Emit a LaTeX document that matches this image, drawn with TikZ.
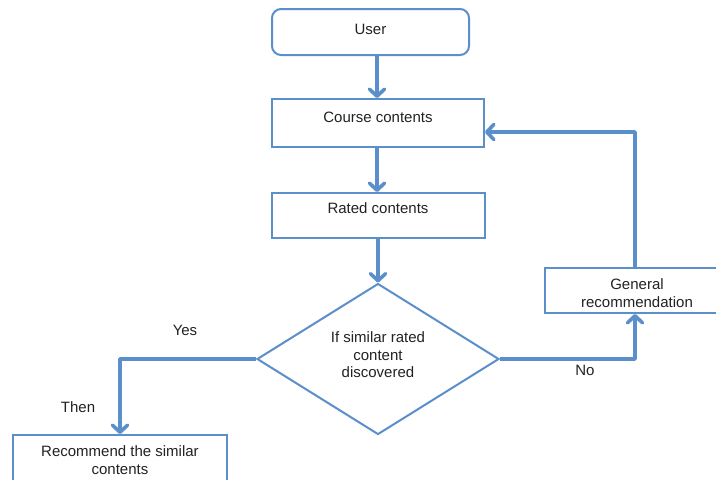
\documentclass[tikz,border=0pt]{standalone}
\usepackage{fontspec}
\setmainfont{Liberation Sans}
\usetikzlibrary{arrows.meta,shapes.geometric,calc}
\definecolor{lineblue}{HTML}{5B8FCB}
\definecolor{txtcol}{HTML}{222222}
\begin{document}
\begin{tikzpicture}[x=1pt,y=-1pt,
  box/.style={draw=lineblue,line width=2pt,fill=white,inner sep=0pt},
  txt/.style={text=txtcol,font=\fontsize{15}{17.5}\selectfont,align=center,inner sep=0pt},
  flow/.style={draw=lineblue,line width=3.6pt,line join=round,
    -{Straight Barb[length=7pt,width=15pt,line cap=round,line join=round]}}]
\useasboundingbox (0,0) rectangle (716,480);
% boxes
\node[box,rounded corners=9pt,minimum width=197pt,minimum height=46pt] (user) at (370.5,32) {};
\node[box,minimum width=212pt,minimum height=48pt] (course) at (378,123) {};
\node[box,minimum width=213pt,minimum height=45pt] (rated) at (378.5,215.5) {};
\node[box,diamond,minimum width=242pt,minimum height=151pt] (dec) at (378,359) {};
\node[box,minimum width=182pt,minimum height=45pt] (general) at (636,290.5) {};
\node[box,minimum width=214pt,minimum height=64pt] (recom) at (120,467) {};
% texts
\node[txt] (usertxt) at (370.5,29) {User};
\node[txt] (coursetxt) at (378,117) {Course contents};
\node[txt] (ratedtxt) at (378,208) {Rated contents};
\node[txt] (dectxt) at (378,355) {If similar rated\\content\\discovered};
\node[txt] (generaltxt) at (637,293) {General\\recommendation};
\node[txt] (recomtxt) at (120,460) {Recommend the similar\\contents};
\node[txt] (yes) at (185,330) {Yes};
\node[txt] (then) at (78,407) {Then};
\node[txt] (no) at (585,370) {No};
% connectors
\coordinate (c1) at (377,0);
\draw[flow] (user.south -| c1) -- (course.north -| c1);
\draw[flow] (course.south -| c1) -- (rated.north -| c1);
\draw[flow] (rated.south -| dec.north) -- (dec.north);
\coordinate (ycol) at (120,0);
\draw[flow] (dec.west) -- (dec.west -| ycol) -- (recom.north);
\coordinate (ncol) at (635,0);
\draw[flow] (dec.east) -- (dec.east -| ncol) -- (general.south -| ncol);
\coordinate (back) at (635,132);
\draw[flow] (general.north -| back) -- (back) -- (course.east |- back);
\end{tikzpicture}
\end{document}
